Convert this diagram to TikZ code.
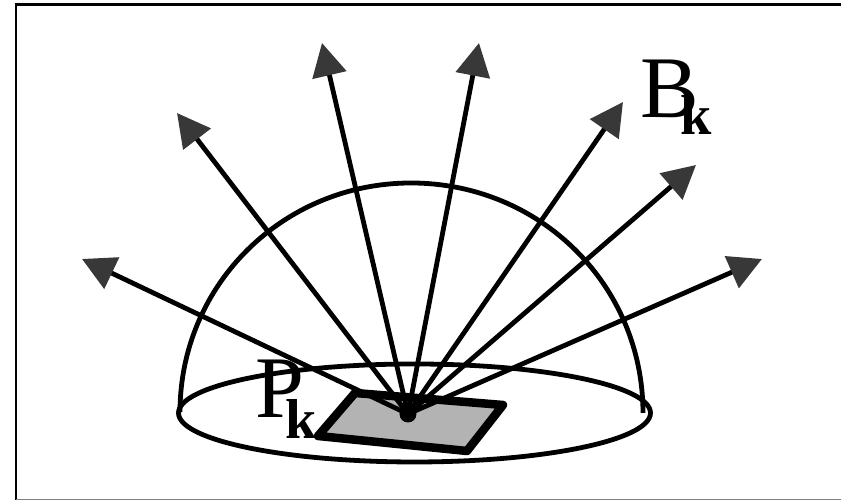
\documentclass[tikz,border=0pt]{standalone}
\usepackage{fontspec}
\setmainfont{Liberation Serif}
\usetikzlibrary{arrows.meta}
\definecolor{tipgray}{HTML}{383838}
\definecolor{patchgray}{HTML}{B3B3B3}
\tikzset{ray/.style={line width=0.48mm,-{Triangle[length=3.3mm,width=3.4mm,color=tipgray]}},
shell/.style={line width=0.48mm},
letter/.style={inner sep=0,anchor=base west,font=\fontsize{25}{25}\selectfont},
index/.style={inner sep=0,anchor=base west,font=\fontsize{16}{16}\selectfont\bfseries}}

\begin{document}
\begin{tikzpicture}[x = 0.1mm, y = -0.1mm]
\useasboundingbox (0,0) rectangle (841,500);
\draw [line width=0.3mm] (16,500) -- (16,4.5) -- (841,4.5);
\draw [line width=0.1mm, gray] (16,499.5) -- (841,499.5);
% base of the dome
\draw [shell] (414.5,413) ellipse [x radius=236, y radius=49];
\coordinate (left) at (180,412);
\coordinate (top) at (411,183);
\coordinate (right) at (643,413);
\draw [shell] (left) .. controls (180,285) and (283,183) .. (top) .. controls (540,183) and (643,285) .. (right);
% patch
\coordinate (a) at (355,393);
\coordinate (b) at (503,405);
\coordinate (c) at (467,451);
\coordinate (d) at (318,436);
\draw [line width=0.85mm, line join=round, fill=patchgray] (a) -- (b) -- (c) -- (d) -- cycle;
% rays
\coordinate (centre) at (408,414);
\coordinate (b1) at (82,259);
\coordinate (b2) at (177,113);
\coordinate (b3) at (322,43);
\coordinate (b4) at (479,43);
\coordinate (b5) at (623,102);
\coordinate (b6) at (696,165);
\coordinate (b7) at (762,259);
\foreach \i in {1,...,7}
  \draw [ray] (centre) -- (b\i);
\fill (centre) circle [radius=8.5];
\node [letter] (pmain) at (255,418) {P};
\node [index] (psub) at (285,439) {k};
\node [letter] (bmain) at (640,118) {B};
\node [index] (bsub) at (680,135) {k};
\end{tikzpicture}
\end{document}
